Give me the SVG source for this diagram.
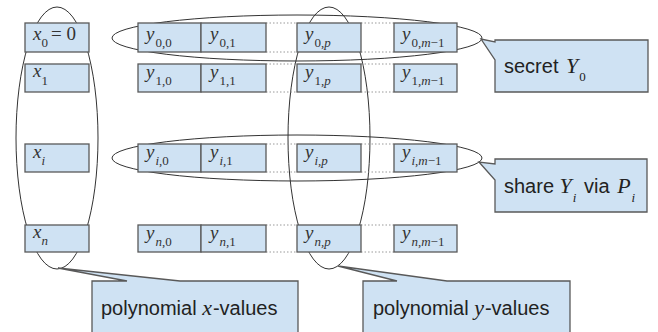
<svg xmlns="http://www.w3.org/2000/svg" width="658" height="332" viewBox="0 0 658 332">
<style>
.bg{fill:#ffffff}
.box{fill:#cfe2f3;stroke:#595959;stroke-width:1.3}
.ell{fill:none;stroke:#333333;stroke-width:1}
.dot{stroke:#999999;stroke-width:1;stroke-dasharray:1.5 2}
.v{font-family:"Liberation Serif",serif;font-style:italic;font-size:19px;fill:#333333}
.s{font-family:"Liberation Serif",serif;font-style:normal;font-size:13px}
.t{font-family:"Liberation Sans",Arial,sans-serif;font-size:20px;fill:#222222}
.tv{font-family:"Liberation Serif",serif;font-style:italic;font-size:22px}
.ts{font-family:"Liberation Serif",serif;font-style:normal;font-size:13px}
.i{font-style:italic}
.u{font-style:normal}
</style>
<rect class="bg" x="0" y="0" width="658" height="332"/>
<g id="groupings">
<ellipse class="ell" cx="57" cy="138" rx="41" ry="131"/>
<ellipse class="ell" cx="329" cy="138" rx="41" ry="131"/>
<ellipse class="ell" cx="297" cy="38" rx="185" ry="23"/>
<ellipse class="ell" cx="297" cy="158" rx="185" ry="23"/>
</g>
<g id="connectors">
<line class="dot" x1="266" y1="23" x2="297" y2="23"/><line class="dot" x1="266" y1="52" x2="297" y2="52"/>
<line class="dot" x1="361" y1="23" x2="394" y2="23"/><line class="dot" x1="361" y1="52" x2="394" y2="52"/>
<line class="dot" x1="266" y1="64" x2="297" y2="64"/><line class="dot" x1="266" y1="92" x2="297" y2="92"/>
<line class="dot" x1="361" y1="64" x2="394" y2="64"/><line class="dot" x1="361" y1="92" x2="394" y2="92"/>
<line class="dot" x1="266" y1="144" x2="297" y2="144"/><line class="dot" x1="266" y1="172" x2="297" y2="172"/>
<line class="dot" x1="361" y1="144" x2="394" y2="144"/><line class="dot" x1="361" y1="172" x2="394" y2="172"/>
<line class="dot" x1="266" y1="225" x2="297" y2="225"/><line class="dot" x1="266" y1="252" x2="297" y2="252"/>
<line class="dot" x1="361" y1="225" x2="394" y2="225"/><line class="dot" x1="361" y1="252" x2="394" y2="252"/>
</g>
<!-- row 0 -->
<g id="x0"><rect class="box" x="25" y="23" width="64" height="29"/><text class="v" x="33" y="40">x<tspan class="s" dy="7">0</tspan><tspan class="u" dy="-7" dx="3">= 0</tspan></text></g>
<g id="y00"><rect class="box" x="138" y="23" width="63" height="29"/><text class="v" x="146" y="40">y<tspan class="s" dx="1" dy="7">0,0</tspan></text></g>
<g id="y01"><rect class="box" x="201" y="23" width="65" height="29"/><text class="v" x="210" y="40">y<tspan class="s" dx="1" dy="7">0,1</tspan></text></g>
<g id="y0p"><rect class="box" x="297" y="23" width="64" height="29"/><text class="v" x="305" y="40">y<tspan class="s" dx="1" dy="7">0,<tspan class="i">p</tspan></tspan></text></g>
<g id="y0m"><rect class="box" x="394" y="23" width="63" height="29"/><text class="v" x="402" y="40">y<tspan class="s" dx="1" dy="7">0,<tspan class="i">m</tspan>−1</tspan></text></g>
<!-- row 1 -->
<g id="x1"><rect class="box" x="25" y="64" width="64" height="28"/><text class="v" x="33" y="77">x<tspan class="s" dy="8">1</tspan></text></g>
<g id="y10"><rect class="box" x="138" y="64" width="63" height="28"/><text class="v" x="146" y="78">y<tspan class="s" dx="1" dy="7">1,0</tspan></text></g>
<g id="y11"><rect class="box" x="201" y="64" width="65" height="28"/><text class="v" x="210" y="78">y<tspan class="s" dx="1" dy="7">1,1</tspan></text></g>
<g id="y1p"><rect class="box" x="297" y="64" width="64" height="28"/><text class="v" x="305" y="78">y<tspan class="s" dx="1" dy="7">1,<tspan class="i">p</tspan></tspan></text></g>
<g id="y1m"><rect class="box" x="394" y="64" width="63" height="28"/><text class="v" x="402" y="78">y<tspan class="s" dx="1" dy="7">1,<tspan class="i">m</tspan>−1</tspan></text></g>
<!-- row i -->
<g id="xi"><rect class="box" x="25" y="144" width="64" height="28"/><text class="v" x="33" y="158">x<tspan class="s i" dy="7">i</tspan></text></g>
<g id="yi0"><rect class="box" x="138" y="144" width="63" height="28"/><text class="v" x="146" y="158">y<tspan class="s" dx="1" dy="7"><tspan class="i">i</tspan>,0</tspan></text></g>
<g id="yi1"><rect class="box" x="201" y="144" width="65" height="28"/><text class="v" x="210" y="158">y<tspan class="s" dx="1" dy="7"><tspan class="i">i</tspan>,1</tspan></text></g>
<g id="yip"><rect class="box" x="297" y="144" width="64" height="28"/><text class="v" x="305" y="158">y<tspan class="s i" dx="1" dy="7">i,p</tspan></text></g>
<g id="yim"><rect class="box" x="394" y="144" width="63" height="28"/><text class="v" x="402" y="158">y<tspan class="s" dx="1" dy="7"><tspan class="i">i</tspan>,<tspan class="i">m</tspan>−1</tspan></text></g>
<!-- row n -->
<g id="xn"><rect class="box" x="25" y="225" width="64" height="27"/><text class="v" x="33" y="238">x<tspan class="s i" dy="7">n</tspan></text></g>
<g id="yn0"><rect class="box" x="138" y="225" width="63" height="27"/><text class="v" x="146" y="239">y<tspan class="s" dx="1" dy="7"><tspan class="i">n</tspan>,0</tspan></text></g>
<g id="yn1"><rect class="box" x="201" y="225" width="65" height="27"/><text class="v" x="210" y="239">y<tspan class="s" dx="1" dy="7"><tspan class="i">n</tspan>,1</tspan></text></g>
<g id="ynp"><rect class="box" x="297" y="225" width="64" height="27"/><text class="v" x="305" y="239">y<tspan class="s i" dx="1" dy="7">n,p</tspan></text></g>
<g id="ynm"><rect class="box" x="394" y="225" width="63" height="27"/><text class="v" x="402" y="239">y<tspan class="s" dx="1" dy="7"><tspan class="i">n</tspan>,<tspan class="i">m</tspan>−1</tspan></text></g>
<!-- callouts -->
<g id="secret"><path class="box" d="M495,40 H648 V92 H495 V60 L481,39 L495,42 Z"/><text class="t" x="504" y="73">secret <tspan class="tv" dx="2">Y</tspan><tspan class="ts" dx="1" dy="8">0</tspan></text></g>
<g id="share"><path class="box" d="M495,159 H647 V212 H495 V180 L479,162 L495,164 Z"/><text class="t" x="504" y="193">share <tspan class="tv">Y</tspan><tspan class="ts i" dx="1" dy="9">i</tspan><tspan dy="-9" dx="2"> via </tspan><tspan class="tv" dx="2">P</tspan><tspan class="ts i" dx="1" dy="9">i</tspan></text></g>
<g id="xvalues"><path class="box" d="M92,281 H127 L58,268 L180,281 H298 V340 H92 Z"/><text class="t" x="101" y="315">polynomial <tspan class="tv">x</tspan><tspan dx="1">-values</tspan></text></g>
<g id="yvalues"><path class="box" d="M363,281 H397 L338,266 L447,281 H570 V340 H363 Z"/><text class="t" x="373" y="315">polynomial <tspan class="tv">y</tspan><tspan dx="1">-values</tspan></text></g>
</svg>
